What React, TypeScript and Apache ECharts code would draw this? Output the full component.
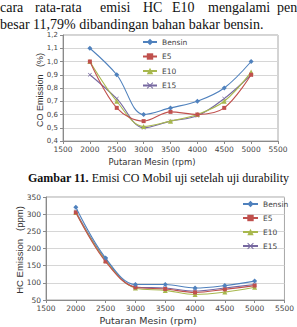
import React, { useEffect, useRef } from 'react';
import * as echarts from 'echarts';

const rpm = [2000, 2500, 3000, 3500, 4000, 4500, 5000];
const seriesNames = ['Bensin', 'E5', 'E10', 'E15'];

const coBensin = [1.1, 0.9, 0.6, 0.65, 0.7, 0.8, 1.0];
const coE5 = [1.0, 0.65, 0.55, 0.62, 0.6, 0.65, 0.9];
const coE10 = [1.0, 0.7, 0.51, 0.55, 0.6, 0.7, 0.92];
const coE15 = [0.9, 0.72, 0.5, 0.55, 0.59, 0.72, 0.9];

const hcBensin = [320, 172, 95, 95, 85, 92, 105];
const hcE5 = [305, 162, 87, 82, 72, 81, 92];
const hcE10 = [305, 165, 85, 78, 66, 73, 87];
const hcE15 = [308, 168, 88, 85, 76, 85, 95];

const line1Words = ['cara', 'rata-rata', 'emisi', 'HC', 'E10', 'mengalami', 'penu'];
const line1X = [0, 35, 100, 143, 172, 208, 277];
const line2Text = 'besar 11,79% dibandingan bahan bakar bensin.';
const captionBold = 'Gambar 11.';
const captionRest = ' Emisi CO Mobil uji setelah uji durability';

const colors = ['#4f81bd', '#c0504d', '#a8b84e', '#7668a0'];
const crossPath = 'path://M0,1L1,0L5,4L9,0L10,1L6,5L10,9L9,10L5,6L1,10L0,9L4,5Z';
const symbols = ['diamond', 'rect', 'triangle', crossPath];
const symbolSizes = [5, 4, 5, 4];

const tickFont = '"DejaVu Sans", sans-serif';

export default function App() {
  const ref = useRef<HTMLDivElement>(null);
  useEffect(() => {
    const chart = echarts.init(ref.current as HTMLDivElement, null, { renderer: 'svg' });
    const coData = [coBensin, coE5, coE10, coE15];
    const hcData = [hcBensin, hcE5, hcE10, hcE15];

    const mkSeries = (data: number[][], idx: number) =>
      data.map((vals, i) => ({
        type: 'line',
        name: seriesNames[i],
        xAxisIndex: idx,
        yAxisIndex: idx,
        smooth: 0.35,
        symbol: symbols[i],
        symbolSize: symbolSizes[i],
        lineStyle: { width: 1.1, color: colors[i] },
        itemStyle: { color: colors[i] },
        data: rpm.map((r, k) => [r, vals[k]]),
        z: 10 - i,
      }));

    const xAxisBase = {
      type: 'value',
      min: 1500,
      max: 5500,
      interval: 500,
      axisLine: { show: true, lineStyle: { color: '#8a8a8a', width: 1 } },
      axisTick: { show: true, length: 3, lineStyle: { color: '#8a8a8a' } },
      splitLine: { show: false },
      axisLabel: {
        fontSize: 7.5, color: '#444', fontFamily: tickFont, margin: 4,
        formatter: (v: number) => String(v),
      },
    };

    const paragraph = line1Words.map((w, i) => ({
      type: 'text',
      x: line1X[i],
      y: 7,
      style: {
        text: w,
        font: '14px "Liberation Serif", serif',
        fill: '#111',
        verticalAlign: 'middle',
      },
    }));

    const option = {
      animation: false,
      backgroundColor: '#fff',
      grid: [
        { left: 63, right: 19, top: 35, bottom: 186, show: true, borderColor: '#a8a8a8', borderWidth: 1, backgroundColor: 'transparent' },
        { left: 46, right: 7, top: 197, bottom: 27, show: true, borderColor: '#a8a8a8', borderWidth: 1, backgroundColor: 'transparent' },
      ],
      xAxis: [
        { ...xAxisBase, gridIndex: 0 },
        { ...xAxisBase, gridIndex: 1 },
      ],
      yAxis: [
        {
          type: 'value', gridIndex: 0, min: 0.4, max: 1.2, interval: 0.1,
          axisLine: { show: true, lineStyle: { color: '#8a8a8a' } },
          axisTick: { show: true, length: 3, lineStyle: { color: '#8a8a8a' } },
          splitLine: { lineStyle: { color: '#d6d6d6', width: 1 } },
          axisLabel: {
            fontSize: 7, color: '#444', fontFamily: tickFont, margin: 5,
            formatter: (v: number) => v.toFixed(1).replace('.', ','),
          },
        },
        {
          type: 'value', gridIndex: 1, min: 50, max: 350, interval: 50,
          axisLine: { show: true, lineStyle: { color: '#8a8a8a' } },
          axisTick: { show: true, length: 3, lineStyle: { color: '#8a8a8a' } },
          splitLine: { lineStyle: { color: '#d6d6d6', width: 1 } },
          axisLabel: { fontSize: 7.5, color: '#444', fontFamily: tickFont, margin: 5, formatter: (v: number) => String(v) },
        },
      ],
      legend: [
        {
          orient: 'vertical', left: 142, top: 38, padding: 0,
          itemWidth: 14, itemHeight: 8, itemGap: 6.5,
          textStyle: { fontSize: 7.5, color: '#444', fontFamily: tickFont, lineHeight: 8 },
          data: seriesNames,
        },
        {
          orient: 'vertical', left: 242, top: 200, padding: 0,
          itemWidth: 15, itemHeight: 8, itemGap: 6,
          textStyle: { fontSize: 7.5, color: '#444', fontFamily: tickFont, lineHeight: 8 },
          data: seriesNames,
        },
      ],
      series: [...mkSeries(coData, 0), ...mkSeries(hcData, 1)],
      graphic: [
        ...paragraph,
        {
          type: 'text', x: 0, y: 24,
          style: { text: line2Text, font: '14px "Liberation Serif", serif', fill: '#111', verticalAlign: 'middle' },
        },
        {
          type: 'text', x: 28, y: 178,
          style: {
            text: '{b|' + captionBold + '}{n|' + captionRest + '}',
            verticalAlign: 'middle',
            rich: {
              b: { font: 'bold 12px "Liberation Serif", serif', fill: '#111' },
              n: { font: '12px "Liberation Serif", serif', fill: '#111' },
            },
          },
        },
        {
          type: 'text', x: 40, y: 90, rotation: Math.PI / 2,
          style: { text: 'CO Emission   (%)', font: '9px "Liberation Sans Narrow", "Liberation Sans", sans-serif', fill: '#333', align: 'center', verticalAlign: 'middle' },
        },
        {
          type: 'text', x: 19, y: 250, rotation: Math.PI / 2,
          style: { text: 'HC Emission   (ppm)', font: '9.5px "Liberation Sans Narrow", "Liberation Sans", sans-serif', fill: '#333', align: 'center', verticalAlign: 'middle' },
        },
        {
          type: 'text', x: 152, y: 162,
          style: { text: 'Putaran Mesin (rpm)', font: '8.5px "DejaVu Sans", sans-serif', fill: '#333', align: 'center', verticalAlign: 'middle' },
        },
        {
          type: 'text', x: 148, y: 320,
          style: { text: 'Putaran Mesin (rpm)', font: '9.5px "DejaVu Sans", sans-serif', fill: '#333', align: 'center', verticalAlign: 'middle' },
        },
      ],
    };
    chart.setOption(option as any);
    return () => chart.dispose();
  }, []);
  return (
    <div
      ref={ref}
      style={{ position: 'absolute', left: 0, top: 0, width: 297, height: 327, background: '#fff' }}
    />
  );
}
